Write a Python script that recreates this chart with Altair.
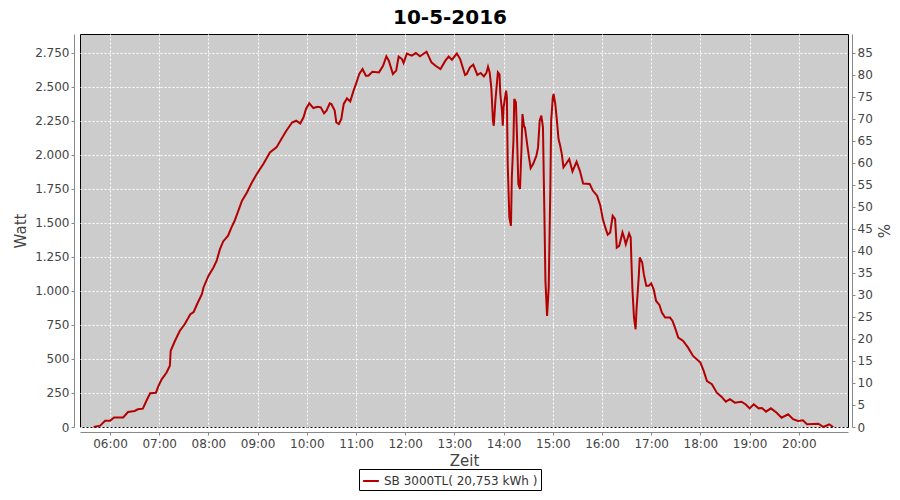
import altair as alt
import pandas as pd

# ---- data ----
times = [
    "05:40", "05:48", "05:54", "06:00", "06:05", "06:16", "06:22", "06:30", "06:34", "06:40",
    "06:45", "06:49", "06:56", "06:59", "07:03", "07:09", "07:13", "07:14", "07:19", "07:25",
    "07:31", "07:38", "07:42", "07:46", "07:52", "07:54", "08:00", "08:06", "08:10", "08:14",
    "08:18", "08:24", "08:28", "08:32", "08:41", "08:47", "08:53", "08:59", "09:07", "09:15",
    "09:23", "09:29", "09:35", "09:42", "09:47", "09:52", "09:56", "09:59", "10:03", "10:08",
    "10:13", "10:17", "10:21", "10:24", "10:28", "10:30", "10:34", "10:36", "10:39", "10:42",
    "10:45", "10:49", "10:53", "10:57", "11:00", "11:04", "11:08", "11:12", "11:15", "11:20",
    "11:28", "11:33", "11:37", "11:40", "11:45", "11:49", "11:52", "11:56", "11:58", "12:02",
    "12:08", "12:13", "12:18", "12:26", "12:32", "12:37", "12:43", "12:49", "12:53", "12:57",
    "13:03", "13:07", "13:13", "13:15", "13:19", "13:23", "13:28", "13:32", "13:36", "13:39",
    "13:41", "13:43", "13:45", "13:47", "13:48", "13:50", "13:53", "13:55", "13:56", "13:58",
    "13:59", "14:00", "14:03", "14:04", "14:05", "14:07", "14:09", "14:10", "14:12", "14:13",
    "14:15", "14:16", "14:18", "14:20", "14:22", "14:23", "14:25", "14:26", "14:29", "14:31",
    "14:33", "14:36", "14:40", "14:42", "14:44", "14:46", "14:48", "14:50", "14:51", "14:53",
    "14:55", "14:57", "14:58", "15:00", "15:01", "15:03", "15:05", "15:07", "15:09", "15:11",
    "15:13", "15:16", "15:20", "15:24", "15:29", "15:33", "15:37", "15:45", "15:49", "15:54",
    "15:58", "16:01", "16:04", "16:07", "16:10", "16:13", "16:16", "16:18", "16:21", "16:25",
    "16:27", "16:29", "16:33", "16:35", "16:36", "16:37", "16:39", "16:41", "16:42", "16:45",
    "16:46", "16:49", "16:51", "16:54", "16:57", "17:00", "17:03", "17:06", "17:10", "17:13",
    "17:17", "17:23", "17:26", "17:29", "17:33", "17:39", "17:45", "17:51", "18:00", "18:04",
    "18:08", "18:14", "18:20", "18:26", "18:31", "18:36", "18:42", "18:50", "18:55", "19:00",
    "19:05", "19:11", "19:15", "19:20", "19:26", "19:33", "19:39", "19:47", "19:53", "19:59",
    "20:05", "20:10", "20:24", "20:30", "20:37", "20:42",
]
watts = [
    0, 10, 45, 45, 70, 70, 110, 118, 130, 135,
    200, 248, 252, 300, 350, 400, 450, 560, 630, 705,
    755, 828, 845, 900, 975, 1025, 1110, 1170, 1220, 1305,
    1363, 1405, 1465, 1515, 1662, 1723, 1796, 1858, 1932, 2017,
    2054, 2115, 2176, 2237, 2250, 2230, 2275, 2336, 2378, 2343,
    2353, 2348, 2304, 2324, 2378, 2373, 2324, 2237, 2226, 2262,
    2373, 2414, 2392, 2471, 2520, 2593, 2630, 2581, 2581, 2610,
    2605, 2654, 2723, 2691, 2593, 2618, 2721, 2703, 2674, 2743,
    2728, 2747, 2723, 2757, 2679, 2654, 2630, 2691, 2721, 2698,
    2743, 2703, 2586, 2593, 2642, 2662, 2586, 2601, 2576, 2601,
    2647, 2605, 2495, 2250, 2213, 2397, 2605, 2590, 2446, 2324,
    2213, 2348, 2471, 2421, 1932, 1540, 1478, 1833, 2103, 2409,
    2385, 2201, 1785, 1748, 2079, 2299, 2206, 2201, 2066, 1980,
    1902, 1932, 1993, 2054, 2250, 2287, 2201, 1470, 1074, 816,
    1024, 1762, 2250, 2421, 2446, 2373, 2250, 2115, 2066, 2005,
    1907, 1932, 1968, 1877, 1948, 1882, 1789, 1785, 1735, 1699,
    1625, 1527, 1466, 1412, 1429, 1551, 1527, 1318, 1331, 1429,
    1392, 1343, 1421, 1392, 1196, 1024, 804, 718, 853, 1123,
    1245, 1208, 1123, 1037, 1037, 1054, 1012, 926, 897, 840,
    804, 804, 779, 730, 657, 632, 583, 522, 473, 412,
    338, 314, 252, 221, 186, 204, 179, 186, 167, 137,
    167, 137, 140, 113, 137, 105, 68, 93, 57, 44,
    49, 20, 24, 0, 20, 0,
]
series_name = "SB 3000TL( 20,753 kWh )"
chart_title = "10-5-2016"
hour_ticks = list(range(360, 1201, 60))      # minutes after midnight, 06:00 .. 20:00
watt_ticks = list(range(0, 2751, 250))
pct_ticks = list(range(0, 86, 5))


def to_minutes(s):
    h, m = s.split(":")
    return int(h) * 60 + int(m)


df = pd.DataFrame({
    "t": [to_minutes(s) for s in times],
    "watt": watts,
    "series": [series_name] * len(watts),
})
pct_df = pd.DataFrame({"pct": pct_ticks})

FONT = "DejaVu Sans"
X_DOMAIN = [323.4, 1260]
Y_MAX = 2887
Y_DOMAIN = [0, Y_MAX]
PCT_DOMAIN = [0, Y_MAX * 85 / 2750]

axis_common = dict(
    domainColor="#888888",
    tickColor="#888888",
    tickSize=3,
    labelColor="#444444",
    labelFont=FONT,
    labelFontSize=12,
    titleFont=FONT,
    titleFontSize=15,
    titleFontWeight="normal",
    titleColor="#444444",
    gridColor="white",
    gridDash=[2, 2],
    gridWidth=1,
    gridOpacity=1,
)

line = alt.Chart(df).mark_line(strokeWidth=2).encode(
    x=alt.X(
        "t:Q",
        scale=alt.Scale(domain=X_DOMAIN, nice=False, zero=False),
        axis=alt.Axis(
            values=hour_ticks,
            labelExpr="(datum.value < 600 ? '0' : '') + floor(datum.value / 60) + ':00'",
            title="Zeit",
            offset=5,
            grid=True,
            labelPadding=3,
            titlePadding=4,
            **axis_common,
        ),
    ),
    y=alt.Y(
        "watt:Q",
        scale=alt.Scale(domain=Y_DOMAIN, nice=False),
        axis=alt.Axis(
            values=watt_ticks,
            labelExpr="replace(format(datum.value, ','), ',', '.')",
            title="Watt",
            offset=6,
            grid=True,
            labelPadding=2,
            titlePadding=6,
            **axis_common,
        ),
    ),
    color=alt.Color(
        "series:N",
        scale=alt.Scale(range=["#B40000"]),
        legend=alt.Legend(
            title=None,
            orient="none",
            legendX=279,
            legendY=435,
            symbolType="stroke",
            symbolStrokeWidth=2,
            symbolSize=250,
            labelFont=FONT,
            labelFontSize=12,
            labelColor="#333333",
            labelLimit=400,
            strokeColor="black",
            padding=3,
            fillColor="white",
        ),
    ),
)

right_axis = alt.Chart(pct_df).mark_point(opacity=0).encode(
    y=alt.Y(
        "pct:Q",
        scale=alt.Scale(domain=PCT_DOMAIN, nice=False),
        axis=alt.Axis(
            orient="right",
            values=pct_ticks,
            title="%",
            offset=4,
            grid=False,
            labelPadding=2,
            titlePadding=2,
            **{k: v for k, v in axis_common.items() if not k.startswith("grid")},
        ),
    ),
)

chart = (
    alt.layer(line, right_axis)
    .resolve_scale(y="independent")
    .properties(
        width=768,
        height=393,
        title=alt.TitleParams(
            chart_title,
            font=FONT,
            fontSize=20,
            fontWeight="bold",
            color="black",
            anchor="middle",
            frame="group",
            dx=-14,
            offset=6,
        ),
        autosize=alt.AutoSizeParams(type="none"),
        padding={"left": 72, "top": 26, "right": 44, "bottom": 64},
    )
    .configure_view(stroke="black", strokeWidth=1, fill="#CCCCCC")
)

chart.save("out.html", embed_options={"renderer": "svg", "actions": False})
